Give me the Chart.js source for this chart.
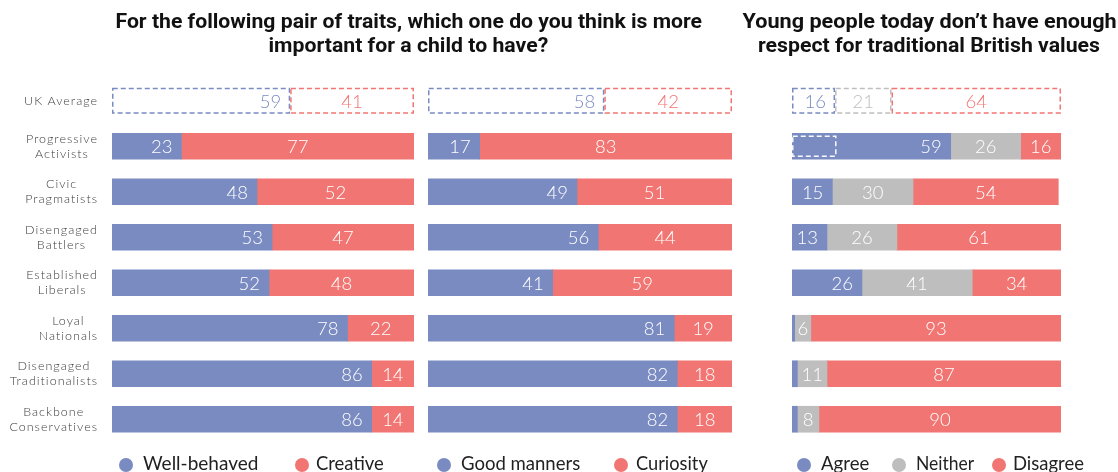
<!DOCTYPE html>
<html>
<head>
<meta charset="utf-8">
<script src="https://cdn.jsdelivr.net/npm/chart.js@4/dist/chart.umd.min.js"></script>
<style>
  html, body { margin: 0; padding: 0; background: #fff; }
  #page { position: relative; width: 1118px; height: 472px; overflow: hidden; background: #fff; font-family: Lato, "Open Sans", sans-serif; }
  canvas { position: absolute; top: 0; }
  .title { position: absolute; white-space: nowrap; font-family: Roboto, sans-serif; font-weight: 700; font-size: 21px; line-height: 24px; color: #111; transform-origin: center top; }
  .legend-text { position: absolute; top: 453px; white-space: nowrap; font-size: 19px; line-height: 20px; color: #222; transform-origin: left top; }
  .dot { position: absolute; top: 458px; width: 14px; height: 14px; border-radius: 50%; }
</style>
</head>
<body>
<div id="page">
  <canvas id="traits1" width="420" height="472" style="left:0"></canvas>
  <canvas id="traits2" width="320" height="472" style="left:420px"></canvas>
  <canvas id="values" width="378" height="472" style="left:740px"></canvas>
</div>
<script>
// Segments of the public
const categories = ['UK Average', 'Progressive Activists', 'Civic Pragmatists', 'Disengaged Battlers',
  'Established Liberals', 'Loyal Nationals', 'Disengaged Traditionalists', 'Backbone Conservatives'];

// Well-behaved vs creative (%)
const wellBehaved = [59, 23, 48, 53, 52, 78, 86, 86];
const creative    = [41, 77, 52, 47, 48, 22, 14, 14];

// Good manners vs curiosity (%)
const goodManners = [58, 17, 49, 56, 41, 81, 82, 82];
const curiosity   = [42, 83, 51, 44, 59, 19, 18, 18];

// Young people don't respect traditional British values (%)
const agree    = [16, 59, 15, 13, 26, 1, 2, 2];
const neither  = [21, 26, 30, 26, 41, 6, 11, 8];
const disagree = [64, 16, 54, 61, 34, 93, 87, 90];

const titleLeft  = ['For the following pair of traits, which one do you think is more', 'important for a child to have?'];
const titleRight = ['Young people today don\u2019t have enough', 'respect for traditional British values'];

const BLUE = '#7a8bc2', RED = '#f17673', GREY = '#bebebe';

// Draws the value inside each segment; the first row (average) is a dashed outline
const barLabels = {
  id: 'barLabels',
  afterDatasetsDraw(chart, args, opts) {
    const ctx = chart.ctx, area = chart.chartArea;
    chart.data.datasets.forEach((ds, di) => {
      const meta = chart.getDatasetMeta(di);
      meta.data.forEach((bar, i) => {
        const p = bar.getProps(['x', 'y', 'base', 'height'], true);
        const left = Math.max(area.left, Math.min(p.base, p.x));
        const right = Math.min(area.right, Math.max(p.base, p.x));
        const v = ds.data[i];
        ctx.save();
        if (i === 0) {
          ctx.strokeStyle = ds.borderColor;
          ctx.lineWidth = 1.5;
          ctx.setLineDash([5, 3]);
          ctx.strokeRect(left + 0.75, p.y - p.height / 2 + 0.75, right - left - 1.5, p.height - 1.5);
        }
        if (v >= 3) {
          ctx.font = '300 18.5px Lato, sans-serif';
          ctx.fillStyle = i === 0 ? ds.borderColor : '#ffffff';
          ctx.textBaseline = 'middle';
          if (di === 0) {
            ctx.textAlign = 'right';
            ctx.fillText(String(v), right - 9, p.y + 1);
          } else {
            ctx.textAlign = 'center';
            ctx.fillText(String(v), (left + right) / 2, p.y + 1);
          }
        }
        ctx.restore();
      });
    });
    // dashed white marker of the average share inside one row
    if (opts.marker) {
      const xs = chart.scales.x, ys = chart.scales.y;
      const y = ys.getPixelForValue(opts.marker.row);
      const x0 = xs.getPixelForValue(0), x1 = xs.getPixelForValue(opts.marker.value);
      ctx.save();
      ctx.strokeStyle = 'rgba(255,255,255,0.95)';
      ctx.lineWidth = 1.5;
      ctx.setLineDash([5, 3]);
      ctx.strokeRect(x0 + 0.75, y - 10, x1 - x0, 20);
      ctx.restore();
    }
  }
};

// Segment names to the left of the first panel, lines centred within a right-aligned block
const categoryLabels = {
  id: 'categoryLabels',
  afterDraw(chart) {
    const ctx = chart.ctx, ys = chart.scales.y;
    const rightEdge = chart.chartArea.left - 14;
    ctx.save();
    ctx.font = '300 12.5px Lato, sans-serif';
    ctx.letterSpacing = '1px';
    ctx.fillStyle = '#3c3c3c';
    ctx.textBaseline = 'middle';
    ctx.textAlign = 'center';
    categories.forEach((name, i) => {
      const lines = i === 0 ? [name] : name.split(' ');
      const w = Math.max(...lines.map(l => ctx.measureText(l).width));
      const cx = rightEdge - w / 2;
      const cy = ys.getPixelForValue(i);
      lines.forEach((l, k) => ctx.fillText(l, cx, cy + (k - (lines.length - 1) / 2) * 15));
    });
    ctx.restore();
  }
};

function makeChart(id, series, padding, extra) {
  return new Chart(document.getElementById(id), {
    type: 'bar',
    data: {
      labels: categories,
      datasets: series.map(s => ({
        label: s.label,
        data: s.data,
        borderColor: s.color,
        borderWidth: 0,
        backgroundColor: c => c.dataIndex === 0 ? 'rgba(255,255,255,0)' : s.color,
        barThickness: 26
      }))
    },
    options: {
      indexAxis: 'y',
      responsive: false,
      animation: false,
      layout: { padding },
      scales: {
        x: { display: false, stacked: true, min: 0, max: 100 },
        y: { display: false, stacked: true }
      },
      plugins: {
        legend: { display: false },
        tooltip: { enabled: false },
        barLabels: extra.labelOpts || {}
      }
    },
    plugins: [barLabels].concat(extra.plugins || [])
  });
}

makeChart('traits1',
  [{ label: 'Well-behaved', data: wellBehaved, color: BLUE }, { label: 'Creative', data: creative, color: RED }],
  { left: 112, right: 6, top: 78, bottom: 30 },
  { plugins: [categoryLabels] });

makeChart('traits2',
  [{ label: 'Good manners', data: goodManners, color: BLUE }, { label: 'Curiosity', data: curiosity, color: RED }],
  { left: 8, right: 8, top: 78, bottom: 30 },
  {});

makeChart('values',
  [{ label: 'Agree', data: agree, color: BLUE }, { label: 'Neither', data: neither, color: GREY }, { label: 'Disagree', data: disagree, color: RED }],
  { left: 52, right: 57, top: 78, bottom: 30 },
  { labelOpts: { marker: { row: 1, value: agree[0] } } });

// Titles
const page = document.getElementById('page');
function addTitle(text, centerX, top, width) {
  const el = document.createElement('div');
  el.className = 'title';
  el.textContent = text;
  page.appendChild(el);
  const w = el.offsetWidth;
  el.style.left = (centerX - w / 2) + 'px';
  el.style.top = top + 'px';
  el.style.transform = 'scaleX(' + (width / w) + ')';
}
addTitle(titleLeft[0], 408.5, 9, 587);
addTitle(titleLeft[1], 408, 33, 280);
addTitle(titleRight[0], 929, 9, 374);
addTitle(titleRight[1], 929, 33, 342);

// Legends
const legendItems = [
  { label: 'Well-behaved', color: BLUE, dot: 126, text: 143, width: 115 },
  { label: 'Creative', color: RED, dot: 302, text: 316, width: 68 },
  { label: 'Good manners', color: BLUE, dot: 444, text: 461, width: 119 },
  { label: 'Curiosity', color: RED, dot: 621, text: 636, width: 72 },
  { label: 'Agree', color: BLUE, dot: 804, text: 821, width: 48 },
  { label: 'Neither', color: GREY, dot: 899, text: 916, width: 58 },
  { label: 'Disagree', color: RED, dot: 998.5, text: 1013, width: 71 }
];
legendItems.forEach(it => {
  const d = document.createElement('div');
  d.className = 'dot';
  d.style.left = (it.dot - 7) + 'px';
  d.style.background = it.color;
  page.appendChild(d);
  const t = document.createElement('div');
  t.className = 'legend-text';
  t.style.left = it.text + 'px';
  t.textContent = it.label;
  page.appendChild(t);
  t.style.transform = 'scaleX(' + (it.width / t.offsetWidth) + ')';
});
</script>
</body>
</html>
